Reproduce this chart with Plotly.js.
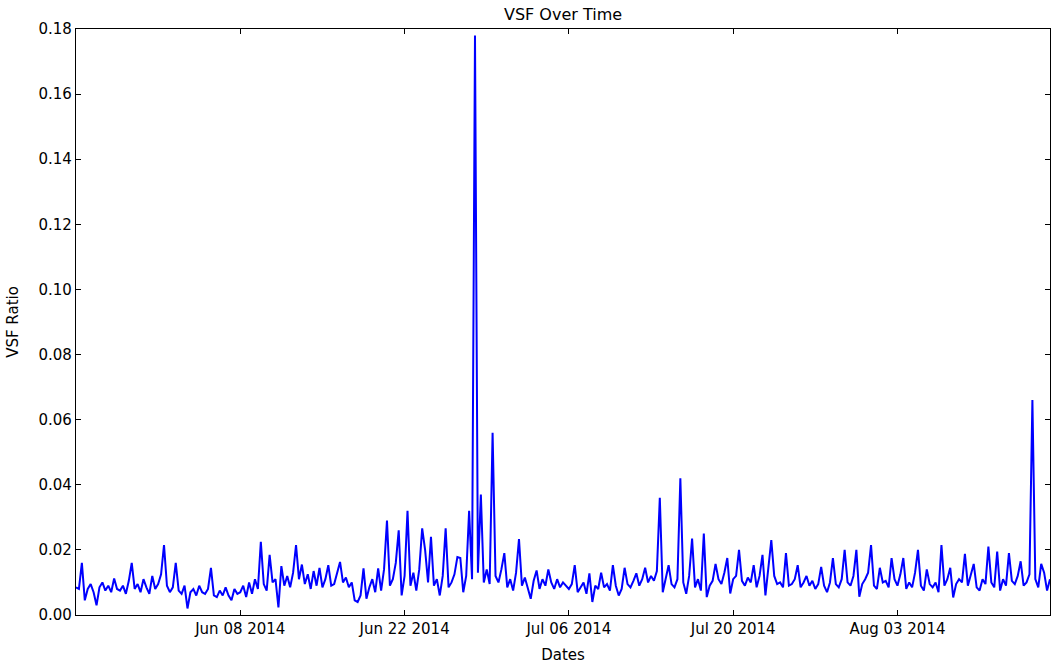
<!DOCTYPE html>
<html>
<head>
<meta charset="utf-8">
<script src="https://cdn.plot.ly/plotly-3.0.1.min.js"></script>
<style>html,body{margin:0;padding:0;background:#fff;}#chart{width:1054px;height:666px;}</style>
</head>
<body>
<div id="chart"></div>
<script>
// Series start and sampling step (6-hourly readings)
const startDate = '2014-05-25T00:00:00';
const stepHours = 6;
// VSF ratio values, 4 readings per day (00h, 06h, 12h, 18h)
const vsfRatio = [
  0.0085, 0.0080, 0.0160, 0.0045, // May 25
  0.0080, 0.0095, 0.0070, 0.0030,
  0.0085, 0.0100, 0.0075, 0.0090,
  0.0070, 0.0112, 0.0080, 0.0075,
  0.0090, 0.0065, 0.0105, 0.0160,
  0.0080, 0.0095, 0.0070, 0.0110, // May 30
  0.0085, 0.0065, 0.0120, 0.0080,
  0.0095, 0.0125, 0.0215, 0.0090,
  0.0070, 0.0085, 0.0160, 0.0075,
  0.0065, 0.0090, 0.0020, 0.0070,
  0.0080, 0.0060, 0.0090, 0.0070, // Jun 04
  0.0065, 0.0080, 0.0145, 0.0060,
  0.0055, 0.0075, 0.0060, 0.0085,
  0.0060, 0.0045, 0.0080, 0.0065,
  0.0070, 0.0090, 0.0055, 0.0100, // Jun 08
  0.0065, 0.0110, 0.0080, 0.0225,
  0.0095, 0.0075, 0.0185, 0.0100,
  0.0110, 0.0023, 0.0150, 0.0090,
  0.0120, 0.0085, 0.0130, 0.0215,
  0.0110, 0.0155, 0.0095, 0.0125, // Jun 13
  0.0080, 0.0135, 0.0090, 0.0145,
  0.0085, 0.0110, 0.0153, 0.0090,
  0.0095, 0.0125, 0.0163, 0.0100,
  0.0115, 0.0085, 0.0100, 0.0045,
  0.0040, 0.0060, 0.0143, 0.0050, // Jun 18
  0.0085, 0.0110, 0.0070, 0.0143,
  0.0075, 0.0140, 0.0290, 0.0090,
  0.0110, 0.0160, 0.0260, 0.0060,
  0.0120, 0.0320, 0.0090, 0.0130, // Jun 22
  0.0075, 0.0140, 0.0266, 0.0200,
  0.0100, 0.0240, 0.0090, 0.0110,
  0.0060, 0.0120, 0.0266, 0.0085,
  0.0100, 0.0125, 0.0178, 0.0175,
  0.0070, 0.0120, 0.0320, 0.0110, // Jun 27
  0.1780, 0.0130, 0.0370, 0.0100,
  0.0140, 0.0095, 0.0560, 0.0120,
  0.0100, 0.0140, 0.0190, 0.0085,
  0.0110, 0.0075, 0.0130, 0.0233,
  0.0090, 0.0115, 0.0080, 0.0050, // Jul 02
  0.0105, 0.0137, 0.0080, 0.0110,
  0.0090, 0.0140, 0.0100, 0.0080,
  0.0110, 0.0085, 0.0100, 0.0090,
  0.0080, 0.0095, 0.0153, 0.0070, // Jul 06
  0.0085, 0.0100, 0.0065, 0.0128,
  0.0040, 0.0090, 0.0080, 0.0130,
  0.0085, 0.0095, 0.0075, 0.0153,
  0.0090, 0.0060, 0.0080, 0.0145,
  0.0095, 0.0085, 0.0105, 0.0128, // Jul 11
  0.0090, 0.0110, 0.0145, 0.0100,
  0.0120, 0.0105, 0.0135, 0.0360,
  0.0070, 0.0110, 0.0153, 0.0095,
  0.0085, 0.0110, 0.0420, 0.0100,
  0.0065, 0.0120, 0.0235, 0.0085, // Jul 16
  0.0110, 0.0075, 0.0250, 0.0055,
  0.0090, 0.0105, 0.0157, 0.0110,
  0.0095, 0.0130, 0.0175, 0.0066,
  0.0110, 0.0120, 0.0200, 0.0105, // Jul 20
  0.0090, 0.0115, 0.0100, 0.0153,
  0.0085, 0.0120, 0.0185, 0.0060,
  0.0140, 0.0230, 0.0120, 0.0095,
  0.0100, 0.0085, 0.0190, 0.0090,
  0.0095, 0.0110, 0.0153, 0.0085, // Jul 25
  0.0100, 0.0120, 0.0090, 0.0105,
  0.0080, 0.0095, 0.0148, 0.0090,
  0.0070, 0.0100, 0.0175, 0.0095,
  0.0085, 0.0110, 0.0200, 0.0100,
  0.0090, 0.0120, 0.0200, 0.0056, // Jul 30
  0.0095, 0.0110, 0.0130, 0.0215,
  0.0090, 0.0080, 0.0145, 0.0100,
  0.0105, 0.0085, 0.0175, 0.0110,
  0.0090, 0.0125, 0.0175, 0.0080, // Aug 03
  0.0100, 0.0085, 0.0130, 0.0200,
  0.0090, 0.0075, 0.0140, 0.0095,
  0.0085, 0.0100, 0.0070, 0.0215,
  0.0090, 0.0110, 0.0145, 0.0054,
  0.0095, 0.0110, 0.0100, 0.0188, // Aug 08
  0.0090, 0.0120, 0.0157, 0.0085,
  0.0075, 0.0110, 0.0095, 0.0210,
  0.0100, 0.0085, 0.0195, 0.0075,
  0.0110, 0.0090, 0.0190, 0.0105,
  0.0095, 0.0120, 0.0165, 0.0090, // Aug 13
  0.0100, 0.0125, 0.0660, 0.0110,
  0.0085, 0.0157, 0.0130, 0.0075,
  0.0110                          // Aug 16
];
const xTickDates = ['2014-06-08', '2014-06-22', '2014-07-06', '2014-07-20', '2014-08-03'];
const xTickLabels = ['Jun 08 2014', 'Jun 22 2014', 'Jul 06 2014', 'Jul 20 2014', 'Aug 03 2014'];
const yTickVals = [0, 0.02, 0.04, 0.06, 0.08, 0.10, 0.12, 0.14, 0.16, 0.18];
const xRange = ['2014-05-25', '2014-08-16'];
const yRange = [0, 0.18];

// timestamps for each reading
const t0 = new Date(startDate + 'Z').getTime();
function fmt(ms) {
  const d = new Date(ms);
  const p = n => String(n).padStart(2, '0');
  return d.getUTCFullYear() + '-' + p(d.getUTCMonth() + 1) + '-' + p(d.getUTCDate()) + ' ' + p(d.getUTCHours()) + ':00';
}
const dates = vsfRatio.map((_, i) => fmt(t0 + i * stepHours * 3600 * 1000));

const font = {family: 'DejaVu Sans, sans-serif', size: 15, color: '#000'};
const trace = {
  x: dates, y: vsfRatio, type: 'scatter', mode: 'lines',
  line: {color: '#0000ff', width: 2}, hoverinfo: 'x+y'
};
const axisCommon = {
  showline: true, linecolor: '#000', linewidth: 1.2, mirror: 'ticks',
  ticks: 'inside', ticklen: 5, tickwidth: 1, tickcolor: '#000',
  showgrid: false, zeroline: false, tickfont: font
};
const layout = {
  width: 1054, height: 666,
  margin: {l: 76, r: 4, t: 29, b: 51},
  paper_bgcolor: '#fff', plot_bgcolor: '#fff',
  font: font,
  showlegend: false,
  title: {text: 'VSF Over Time', font: {family: 'DejaVu Sans, sans-serif', size: 16, color: '#000'},
          x: 0.5, xref: 'paper', y: 0.979, yref: 'container', yanchor: 'middle'},
  xaxis: Object.assign({}, axisCommon, {
    type: 'date', range: xRange, tickmode: 'array', tickvals: xTickDates, ticktext: xTickLabels,
    title: {text: 'Dates', font: font, standoff: 12}
  }),
  yaxis: Object.assign({}, axisCommon, {
    range: yRange, tickmode: 'array', tickvals: yTickVals, tickformat: '.2f',
    title: {text: 'VSF Ratio', font: font, standoff: 16}
  })
};
Plotly.newPlot('chart', [trace], layout, {displayModeBar: false, staticPlot: true});
</script>
</body>
</html>
